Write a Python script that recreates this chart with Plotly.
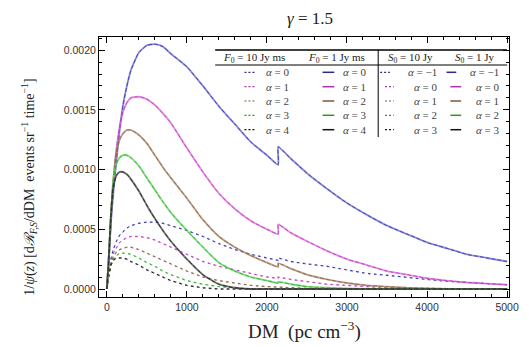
import plotly.graph_objects as go

# ---------------- data ----------------
dm = [0, 20, 50, 80, 120, 160, 200, 250, 300, 400, 500, 600, 700, 800, 1000, 1200,
      1400, 1600, 1800, 2000, 2140, 2141, 2300, 2500, 2750, 3000, 3250, 3500, 3750,
      4000, 4250, 4500, 4750, 5000]

# F0 = 1 Jy ms (solid), alpha = 0..4  (same curves as S0 = 1 Jy, alpha = -1..3)
solid_a0 = [0, 0.00020, 0.00055, 0.00080, 0.00108, 0.00133, 0.00153, 0.00170, 0.00183, 0.00198,
            0.00204, 0.00205, 0.00203, 0.00197, 0.00186, 0.00170, 0.00153, 0.00138, 0.00123,
            0.00112, 0.00104, 0.00119, 0.00109, 0.00097, 0.00084, 0.00072, 0.00062, 0.00053,
            0.00046, 0.00039, 0.00034, 0.00029, 0.00026, 0.00023]
solid_a1 = [0, 0.00020, 0.00058, 0.00088, 0.00117, 0.00136, 0.00148, 0.00156, 0.00160, 0.00161,
            0.00159, 0.00154, 0.00147, 0.00139, 0.00118, 0.00098, 0.00080, 0.00067, 0.00057,
            0.00050, 0.00046, 0.00054, 0.00047, 0.00040, 0.00032, 0.00025, 0.00020, 0.00015,
            0.00012, 0.00009, 0.00007, 0.000055, 0.000045, 0.000035]
solid_a2 = [0, 0.00020, 0.00060, 0.00090, 0.00115, 0.00125, 0.00130, 0.00133, 0.00133, 0.00129,
            0.00122, 0.00112, 0.00102, 0.00093, 0.00076, 0.00058, 0.00044, 0.00035, 0.00028,
            0.00022, 0.000185, 0.000215, 0.00017, 0.00012, 0.00008, 0.00005, 0.00003, 0.00002,
            0.00001, 0.000005, 0, 0, 0, 0]
solid_a3 = [0, 0.00020, 0.00060, 0.00090, 0.00105, 0.00110, 0.00112, 0.00112, 0.00110, 0.00103,
            0.00093, 0.00083, 0.00073, 0.00064, 0.00049, 0.00035, 0.00022, 0.00015, 0.00010,
            0.00007, 0.00005, 0.00006, 0.00004, 0.00002, 0.00001, 0.000005, 0, 0,
            0, 0, 0, 0, 0, 0]
solid_a4 = [0, 0.00020, 0.00060, 0.00085, 0.00095, 0.00098, 0.00098, 0.00096, 0.00092, 0.00082,
            0.00070, 0.00059, 0.00049, 0.00040, 0.00025, 0.00012, 0.00004, 0.00001, 0,
            0, 0, 0, 0, 0, 0, 0, 0, 0,
            0, 0, 0, 0, 0, 0]

# F0 = 10 Jy ms (dotted), alpha = 0..4  (same curves as S0 = 10 Jy, alpha = -1..3)
dot_a0 = [0, 0.00010, 0.00025, 0.00033, 0.00040, 0.00045, 0.00048, 0.00051, 0.00053, 0.00055,
          0.00056, 0.00056, 0.00055, 0.00053, 0.00049, 0.00044, 0.00038, 0.00033, 0.00029,
          0.00026, 0.00024, 0.00026, 0.00023, 0.00021, 0.00019, 0.00016, 0.00013, 0.000115,
          0.000095, 0.00008, 0.000065, 0.000055, 0.000045, 0.000035]
dot_a1 = [0, 0.00010, 0.00022, 0.00030, 0.00035, 0.00039, 0.00041, 0.00043, 0.00044, 0.00044,
          0.00043, 0.00041, 0.00038, 0.00035, 0.00029, 0.00023, 0.00019, 0.00016, 0.00013,
          0.00010, 0.00009, 0.00010, 0.00008, 0.00006, 0.00004, 0.00003, 0.00002, 0.00001,
          0.00001, 0.000005, 0, 0, 0, 0]
dot_a2 = [0, 0.00010, 0.00020, 0.00027, 0.00031, 0.00033, 0.00034, 0.00035, 0.00035, 0.00033,
          0.00030, 0.00027, 0.00024, 0.00021, 0.00015, 0.00010, 0.00007, 0.00005, 0.00003,
          0.00002, 0.000015, 0.00002, 0.00001, 0.000005, 0, 0, 0, 0,
          0, 0, 0, 0, 0, 0]
dot_a3 = [0, 0.00010, 0.00020, 0.00025, 0.00028, 0.00030, 0.00030, 0.00030, 0.00029, 0.00026,
          0.00022, 0.00019, 0.00015, 0.00012, 0.00007, 0.00004, 0.00002, 0.00001, 0,
          0, 0, 0, 0, 0, 0, 0, 0, 0,
          0, 0, 0, 0, 0, 0]
dot_a4 = [0, 0.00010, 0.00020, 0.00024, 0.00026, 0.00026, 0.00026, 0.00025, 0.00023, 0.00020,
          0.00016, 0.00013, 0.00010, 0.00007, 0.00003, 0.00001, 0, 0, 0,
          0, 0, 0, 0, 0, 0, 0, 0, 0,
          0, 0, 0, 0, 0, 0]

solid_curves = [solid_a0, solid_a1, solid_a2, solid_a3, solid_a4]
dot_curves = [dot_a0, dot_a1, dot_a2, dot_a3, dot_a4]
alpha_F = ["0", "1", "2", "3", "4"]
alpha_S = ["\u22121", "0", "1", "2", "3"]
headers = ["<i>F</i><sub>0</sub> = 10 Jy ms", "<i>F</i><sub>0</sub> = 1 Jy ms",
           "<i>S</i><sub>0</sub> = 10 Jy", "<i>S</i><sub>0</sub> = 1 Jy"]
xticks = [0, 1000, 2000, 3000, 4000, 5000]
yticks = [0.0, 0.0005, 0.0010, 0.0015, 0.0020]

# ---------------- style ----------------
light = ["rgba(95,95,215,0.7)", "rgba(220,95,220,0.7)", "rgba(170,130,100,0.75)",
         "rgba(90,215,90,0.75)", "rgba(70,70,70,0.75)"]
dark = ["#2a2a8a", "#b030b0", "#7a5a3a", "#20a020", "#111111"]
SERIF = "Liberation Serif"

fig = go.Figure()
for i in range(5):
    fig.add_trace(go.Scatter(x=dm, y=dot_curves[i], mode="lines", showlegend=False,
                             line=dict(color=light[i], width=1.4, dash="dot")))
    fig.add_trace(go.Scatter(x=dm, y=dot_curves[i], mode="lines", showlegend=False,
                             line=dict(color=dark[i], width=0.9, dash="2px,4px")))
for i in range(5):
    fig.add_trace(go.Scatter(x=dm, y=solid_curves[i], mode="lines", showlegend=False,
                             line=dict(color=light[i], width=1.9, shape="spline", smoothing=0.5)))
    fig.add_trace(go.Scatter(x=dm, y=solid_curves[i], mode="lines", showlegend=False,
                             line=dict(color=dark[i], width=0.7, dash="4px,2px",
                                       shape="spline", smoothing=0.5)))

# plot area geometry (pixels)
L, R, T, B = 99, 519, 37, 297
W, H = 529, 347
def px(x):
    return (x - L) / (R - L)
def py(y):
    return (B - y) / (B - T)

shapes = []
ann = []
# legend table lines
shapes.append(dict(type="line", xref="paper", yref="paper", x0=px(218), x1=px(517),
                   y0=py(50), y1=py(50), line=dict(color="black", width=1.3)))
shapes.append(dict(type="line", xref="paper", yref="paper", x0=px(218), x1=px(517),
                   y0=py(65), y1=py(65), line=dict(color="black", width=1)))
shapes.append(dict(type="line", xref="paper", yref="paper", x0=px(385), x1=px(385),
                   y0=py(50), y1=py(137), line=dict(color="black", width=1)))
head_x = [258, 342, 418, 484]
for hx, h in zip(head_x, headers):
    ann.append(dict(x=px(hx), y=py(57.5), xref="paper", yref="paper", text=h, showarrow=False,
                    font=dict(family=SERIF, size=11, color="#222"), xanchor="center",
                    yanchor="middle"))
rows = [72.3, 86.7, 101, 115.3, 129.7]
LF = 11
for i in range(5):
    yy = py(rows[i])
    # column 1: F0=10 dotted
    shapes.append(dict(type="line", xref="paper", yref="paper", x0=px(248), x1=px(260),
                       y0=yy, y1=yy, line=dict(color=dark[i], width=1.2, dash="2px,2px")))
    ann.append(dict(x=px(268), y=yy, xref="paper", yref="paper",
                    text="<i>\u03b1</i> = " + alpha_F[i], showarrow=False, xanchor="left",
                    yanchor="middle", font=dict(family=SERIF, size=LF, color="#444")))
    # column 2: F0=1 solid
    shapes.append(dict(type="line", xref="paper", yref="paper", x0=px(328), x1=px(340),
                       y0=yy, y1=yy, line=dict(color=dark[i], width=1.5)))
    ann.append(dict(x=px(347), y=yy, xref="paper", yref="paper",
                    text="<i>\u03b1</i> = " + alpha_F[i], showarrow=False, xanchor="left",
                    yanchor="middle", font=dict(family=SERIF, size=LF, color="#444")))
    # column 3: S0=10 dotted
    x0c3, x1c3 = (387, 397) if i == 0 else (392, 401)
    shapes.append(dict(type="line", xref="paper", yref="paper", x0=px(x0c3), x1=px(x1c3),
                       y0=yy, y1=yy, line=dict(color=dark[i], width=1.2, dash="2px,2px")))
    ann.append(dict(x=px(447), y=yy, xref="paper", yref="paper",
                    text="<i>\u03b1</i> = " + alpha_S[i], showarrow=False, xanchor="right",
                    yanchor="middle", font=dict(family=SERIF, size=LF, color="#444")))
    # column 4: S0=1 solid
    x0c4, x1c4 = (455, 465) if i == 0 else (459, 470)
    shapes.append(dict(type="line", xref="paper", yref="paper", x0=px(x0c4), x1=px(x1c4),
                       y0=yy, y1=yy, line=dict(color=dark[i], width=1.5)))
    ann.append(dict(x=px(511), y=yy, xref="paper", yref="paper",
                    text="<i>\u03b1</i> = " + alpha_S[i], showarrow=False, xanchor="right",
                    yanchor="middle", font=dict(family=SERIF, size=LF, color="#444")))

# titles
ann.append(dict(x=px(315), y=py(18), xref="paper", yref="paper", text="<i>\u03b3</i> = 1.5",
                showarrow=False, xanchor="center", yanchor="middle",
                font=dict(family=SERIF, size=17, color="#222")))
ann.append(dict(x=px(310), y=py(330), xref="paper", yref="paper",
                text="DM  (pc cm<sup>\u22123</sup>)", showarrow=False, xanchor="center",
                yanchor="middle", font=dict(family=SERIF, size=19, color="#222")))
ann.append(dict(x=px(27), y=py(187), xref="paper", yref="paper",
                text="1/<i>\u03c8</i>(<i>z</i>) [d<i>\u211b<sub>F,S</sub></i>/dDM  events sr<sup>\u22121</sup> time<sup>\u22121</sup>]",
                showarrow=False, textangle=-90, xanchor="center", yanchor="middle",
                font=dict(family=SERIF, size=14, color="#222")))

axis_common = dict(showline=True, linecolor="black", linewidth=1, mirror="ticks",
                   ticks="inside", ticklen=6, tickcolor="black", showgrid=False,
                   zeroline=False,
                   tickfont=dict(family="Liberation Sans", size=10.5, color="#333"))
fig.update_layout(
    width=W, height=H, margin=dict(l=L, r=W - R, t=T, b=H - B),
    paper_bgcolor="white", plot_bgcolor="white",
    xaxis=dict(range=[-98, 5024], tickvals=xticks, ticktext=[str(v) for v in xticks],
               minor=dict(ticks="inside", dtick=200, tick0=0, ticklen=3, tickcolor="black"),
               **axis_common),
    yaxis=dict(range=[-0.000067, 0.00211], tickvals=yticks,
               ticktext=["%.4f" % v for v in yticks],
               minor=dict(ticks="inside", dtick=0.0001, tick0=0, ticklen=3, tickcolor="black"),
               **axis_common),
    shapes=shapes, annotations=ann,
)
fig.write_html("out.html")
